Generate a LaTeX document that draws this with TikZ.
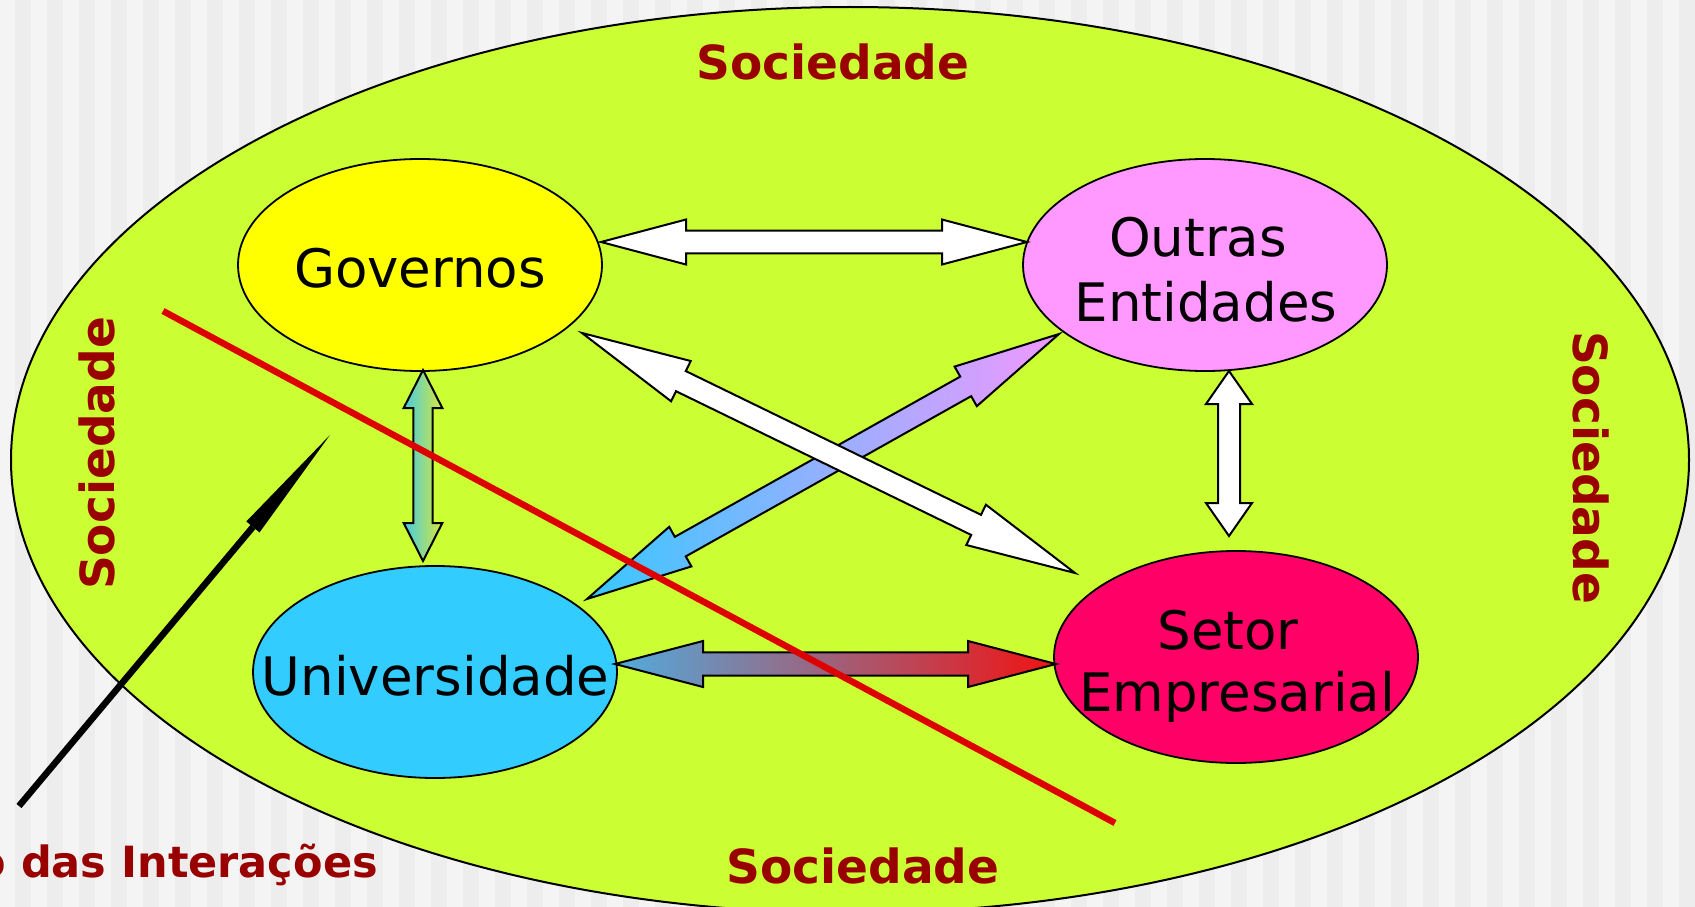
\documentclass[tikz,border=0pt]{standalone}
\usepackage{fontspec}
\setmainfont{DejaVu Sans}
\usetikzlibrary{shapes.geometric,calc}
\definecolor{bgA}{HTML}{F4F4F4}
\definecolor{bgB}{HTML}{EDEDED}
\definecolor{socc}{HTML}{CCFF33}
\definecolor{govc}{HTML}{FFFF00}
\definecolor{outc}{HTML}{FF99FF}
\definecolor{univc}{HTML}{33CCFF}
\definecolor{setc}{HTML}{FF0066}
\definecolor{dred}{HTML}{990000}
\definecolor{rline}{HTML}{DD0000}
\definecolor{gA}{RGB}{70,205,225}
\definecolor{gB}{RGB}{215,230,60}
\definecolor{hA}{RGB}{80,172,222}
\definecolor{hB}{RGB}{242,18,18}
\definecolor{dA}{RGB}{55,200,255}
\definecolor{dB}{RGB}{240,152,255}
\newcommand\fatarrow[6]{%
  \coordinate (fa-h1) at ($(#1)!#3pt!(#2)$);
  \coordinate (fa-h2) at ($(#2)!#3pt!(#1)$);
  \draw[fatarr,#6] (#1) -- ($(fa-h1)!#4pt!90:(#2)$) -- ($(fa-h1)!#5pt!90:(#2)$)
    -- ($(fa-h2)!#5pt!-90:(#1)$) -- ($(fa-h2)!#4pt!-90:(#1)$) -- (#2)
    -- ($(fa-h2)!#4pt!90:(#1)$) -- ($(fa-h2)!#5pt!90:(#1)$)
    -- ($(fa-h1)!#5pt!-90:(#2)$) -- ($(fa-h1)!#4pt!-90:(#2)$) -- cycle;}
\begin{document}
\begin{tikzpicture}[x=1pt,y=-1pt,
  ellbox/.style={ellipse, draw=black, line width=1.8pt, minimum width=364pt, minimum height=212pt, inner sep=0pt},
  ntext/.style={inner sep=0pt, anchor=base, font=\fontsize{53}{64}\selectfont},
  soctext/.style={inner sep=0pt, text=dred, font=\fontsize{47}{56}\selectfont\bfseries},
  fatarr/.style={draw=black, line width=2pt, line join=miter, fill=white}]
\useasboundingbox (0,0) rectangle (1695,907);
\begin{scope}
\clip (0,0) rectangle (1695,907);
\fill[bgA] (0,0) rectangle (1695,907);
\foreach \i in {0,...,52} \fill[bgB] ({15+32*\i},0) rectangle +(16,907);
\node[ellipse, draw=black, line width=2pt, fill=socc, minimum width=1678pt, minimum height=906pt, inner sep=0pt] (society) at (850,460) {};
\node[soctext, anchor=base] (socT) at (833,80) {Sociedade};
\node[soctext, anchor=base] (socB) at (863,883) {Sociedade};
\node[soctext, rotate=90] (socL) at (97,453.5) {Sociedade};
\node[soctext, rotate=-90] (socR) at (1591,467.5) {Sociedade};
% entity ellipses
\node[ellbox, fill=govc] (gov) at (420,265) {};
\node[ellbox, fill=outc] (out) at (1205,265) {};
\node[ellbox, fill=univc] (univ) at (435,672) {};
\node[ellbox, fill=setc] (set) at (1236,657) {};
\node[ntext] (govT) at (420,287.5) {Governos};
\node[ntext] (outT1) at (1198,256) {Outras};
\node[ntext] (outT2) at (1206,321) {Entidades};
\node[ntext] (univT) at (435.6,695) {Universidade};
\node[ntext] (setT1) at (1228,649) {Setor};
\node[ntext] (setT2) at (1237,711) {Empresarial};
% arrow end points
\coordinate (a1s) at (601,242);   \coordinate (a1e) at (1027,242);
\coordinate (a2s) at (423,370);   \coordinate (a2e) at (423,561);
\coordinate (a3s) at (1229,371);  \coordinate (a3e) at (1229,536);
\coordinate (a4s) at (615,664);   \coordinate (a4e) at (1056,664);
\coordinate (a5s) at (582,333);   \coordinate (a5e) at (1075,573);
\coordinate (a6s) at (587,599);   \coordinate (a6e) at (1059,334);
\fatarrow{a1s}{a1e}{85}{22.5}{11.3}{fill=white}
\fatarrow{a2s}{a2e}{38}{19.3}{9.7}{left color=gA,right color=gB}
\fatarrow{a3s}{a3e}{33}{23}{11}{fill=white}
\fatarrow{a4s}{a4e}{88}{23}{11.7}{left color=hA,right color=hB}
\fatarrow{a6s}{a6e}{107}{22.7}{11.2}{left color=dA,right color=dB}
\fatarrow{a5s}{a5e}{110}{22.4}{11.2}{fill=white}
% red line
\coordinate (r1) at (163,311);
\coordinate (r2) at (1115,823);
\draw[rline, line width=6.5pt] (r1) -- (r2);
% black arrow
\coordinate (btail) at (19,806);
\coordinate (btip) at (330,435);
\coordinate (bbase) at ($(btip)!120pt!(btail)$);
\draw[line width=6.5pt] (btail) -- (bbase);
\fill[black] (btip) -- ($(bbase)!8.6pt!90:(btip)$) -- ($(bbase)!8.6pt!-90:(btip)$) -- cycle;
\node[inner sep=0pt, anchor=base east, text=dred, font=\fontsize{43}{50}\selectfont\bfseries] (evol) at (378,877) {o das Interações};
\end{scope}
\end{tikzpicture}
\end{document}
